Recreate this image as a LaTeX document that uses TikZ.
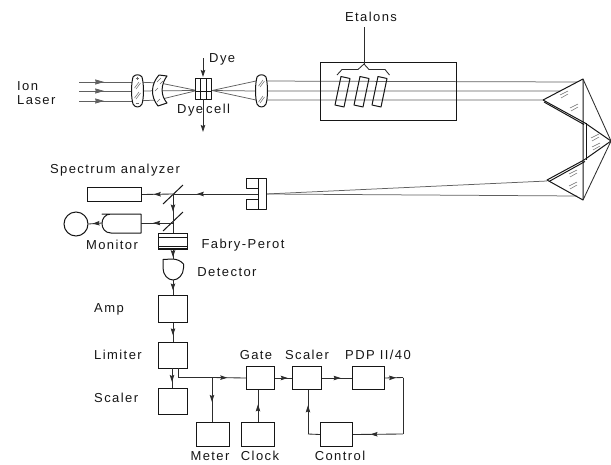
\documentclass[tikz,border=0pt]{standalone}
\usepackage{fontspec}
\setmainfont{Liberation Sans}[LetterSpace=11]
\usetikzlibrary{arrows.meta,decorations.markings}
\definecolor{ink}{HTML}{161616}
\definecolor{beam}{HTML}{606060}
\tikzset{
  x=1pt,y=-1pt,
  part/.style={draw=ink,line width=1pt,line join=round},
  box/.style={draw=ink,line width=1pt,rectangle,inner sep=0pt,minimum width=#1},
  box/.default=29pt,
  lab/.style={inner sep=0pt,text=ink,font=\fontsize{13}{15}\selectfont,align=left},
  ray/.style={draw=beam,line width=0.75pt},
  wire/.style={draw=ink!90,line width=0.85pt},
  hatch/.style={draw=ink!65,line width=0.5pt},
  midarr/.style={postaction={decorate},decoration={markings,mark=at position #1 with {\arrow{Stealth[length=7pt,width=4.5pt,inset=1pt]}}}},
  bigarr/.style={postaction={decorate},decoration={markings,mark=at position #1 with {\arrow{Stealth[length=9pt,width=5pt,inset=0.5pt]}}}},
  endarr/.style={-{Stealth[length=7pt,width=4.5pt,inset=1pt]}}
}
\begin{document}
\begin{tikzpicture}
\useasboundingbox (0,0) rectangle (611,464);
% ---- coordinates of the optical train
\coordinate (inA) at (79,82); \coordinate (inB) at (79,91); \coordinate (inC) at (79,101);
\coordinate (lenA) at (135,82); \coordinate (lenB) at (135,91); \coordinate (lenC) at (135,101);
\coordinate (menA) at (160,83); \coordinate (menC) at (158,100);
\coordinate (cellL) at (197,90.5); \coordinate (cellR) at (212,90.5);
\coordinate (lensA) at (256,81); \coordinate (lensB) at (256,91); \coordinate (lensC) at (256,100);
\coordinate (prA) at (577,82); \coordinate (prB) at (560,91); \coordinate (prC) at (543,100);
\coordinate (retA) at (547,181); \coordinate (retB) at (577,196); \coordinate (slit) at (266,194);
% ---- beams
\draw[ray,bigarr=0.45] (inA) -- (lenA); \draw[ray] (lenA) -- (menA) -- (cellL);
\draw[ray,bigarr=0.45] (inB) -- (lenB); \draw[ray] (lenB) -- (cellL);
\draw[ray,bigarr=0.45] (inC) -- (lenC); \draw[ray] (lenC) -- (menC) -- (cellL);
\draw[ray] (cellR) -- (lensA) -- (prA);
\draw[ray] (cellR) -- (lensB) -- (prB);
\draw[ray] (cellR) -- (lensC) -- (prC);
\draw[ray] (retA) -- (slit);
\draw[ray] (retB) -- (slit);
% ---- lenses
\draw[part,fill=white] (133,77) .. controls (135,74) and (140,74) .. (142,77) .. controls (144,85) and (144,97) .. (142,104) .. controls (140,108) and (135,108) .. (133,104) .. controls (131,97) and (131,85) .. (133,77) -- cycle;
\draw[part,fill=white] (159,75) -- (167,76) .. controls (161,84) and (160,95) .. (167,103) -- (158,106) .. controls (150,96) and (151,84) .. (159,75) -- cycle;
\draw[part,fill=white] (257,77) .. controls (259,74) and (264,74) .. (266,77) .. controls (268,85) and (268,97) .. (266,104) .. controls (264,108) and (259,108) .. (257,104) .. controls (255,97) and (255,85) .. (257,77) -- cycle;
\foreach \xa/\ya in {136/85,136/95,260/83,260/99}{
  \draw[hatch] (\xa-1.5,\ya+3) -- (\xa+3,\ya-3) (\xa,\ya+4) -- (\xa+4.5,\ya-2);
}
\draw[hatch] (157,82) -- (161,78) (160,84) -- (163,81) (155,91) -- (158,88) (157,102) -- (160,99);
\draw[hatch] (135.5,78) -- (138.5,78) (137,76.5) -- (137,79.5) (135.5,103) -- (138.5,103);
% ---- dye cell
\draw[part,fill=white] (195,78) rectangle (211,99);
\draw[part] (200,78) -- (200,99) (206,78) -- (206,99) (195,91) -- (211,91);
% ---- etalon box
\node[box=136pt,minimum height=58pt,anchor=north west] (ebox) at (320,62) {};
\foreach \xa in {0,19,37}{
  \draw[part] (341+\xa,76.5) -- (350+\xa,78.5) -- (344+\xa,107) -- (335+\xa,105) -- cycle;
}
\coordinate (bracetip) at (364,64);
\coordinate (etalonfoot) at (364,27);
\draw[wire] (337,75) -- (342,69.5) -- (358,69.5) -- (bracetip) -- (369,69.5) -- (385,69.5) -- (389.5,75);
\draw[wire] (bracetip) -- (etalonfoot);
% ---- prisms
\coordinate (pa) at (583,79); \coordinate (pb) at (543,100); \coordinate (pc) at (585,123);
\coordinate (pd) at (611,141); \coordinate (pe) at (584,160); \coordinate (pf) at (547,180);
\coordinate (pg) at (583,200);
\draw[part] (pb) -- (pa) -- (pg) -- (pf) -- (pe);
\draw[part] (pb) -- (pc) (pc) -- (pd) -- (pe);
\draw[part] (544,102) -- (584,124.5) (549,181.5) -- (585,161.5);
\draw[part] (586,123) -- (586,160);
\draw[wire] (pa) -- (pd) -- (pg);
\foreach \xa/\ya in {564/94,574/107,595/137,596/146,573/173,573/185}{
  \draw[hatch] (\xa-4,\ya+1) -- (\xa+4,\ya-3) (\xa-3,\ya+4) -- (\xa+4,\ya);
}
% ---- double monochromator / slit
\draw[part,fill=white] (246,178) -- (266,178) -- (266,209) -- (246,209) -- (246,199) -- (258,199) -- (258,188) -- (246,188) -- cycle;
\draw[part] (258,178) -- (258,209);
% ---- detection optics
\node[box=54pt,minimum height=14pt,anchor=north west] (spec) at (87,187) {};
\coordinate (splitA) at (173,194);
\coordinate (splitB) at (173,223);
\coordinate (slitL) at (258,194);
\draw[part] (163,204) -- (183,185);
\draw[part] (163,231) -- (183,212);
\draw[wire,midarr=0.72] (slitL) -- (splitA);
\draw[wire,midarr=0.62] (splitA) -- (spec.east);
\coordinate (fpTop) at (173,233);
\draw[wire,midarr=0.45] (splitA) -- (fpTop);
\draw[part] (102,214) -- (141,214) -- (141,233) -- (111,233) .. controls (99,233) and (99,214) .. (111,214) -- cycle;
\coordinate (monR) at (141,223); \coordinate (monL) at (102,223);
\node[draw=ink,line width=1pt,circle,minimum size=24pt,inner sep=0pt] (moncirc) at (76,224) {};
\draw[wire,midarr=0.62] (splitB) -- (monR);
\draw[wire,midarr=0.7] (monL) -- (moncirc.east);
\node[box=29pt,minimum height=16pt,anchor=north west] (fp) at (158,233) {};
\draw[part] (158,237) -- (187,237) (158,246) -- (187,246) (158,248) -- (187,248);
\coordinate (detTop) at (173,259); \coordinate (detBot) at (173,280);
\draw[part] (163,259.5) -- (172,259) .. controls (177,259) and (181,261) .. (183.5,264) -- (183.5,268) .. controls (183.5,275) and (178,280) .. (173,280) .. controls (168,280) and (163,275) .. (163,268) -- cycle;
\draw[wire,midarr=0.8] (fp.south -| detTop) -- (detTop);
\node[box=29pt,minimum height=27pt,anchor=north west] (amp) at (158,295) {};
\node[box=29pt,minimum height=26pt,anchor=north west] (lim) at (158,342) {};
\node[box=29pt,minimum height=26pt,anchor=north west] (sca) at (158,388) {};
\node[box=28pt,minimum height=23pt,anchor=north west] (gate) at (246,366) {};
\node[box=29pt,minimum height=23pt,anchor=north west] (scb) at (292,366) {};
\node[box=32pt,minimum height=23pt,anchor=north west] (pdp) at (352,366) {};
\node[box=32pt,minimum height=24pt,anchor=north west] (ctl) at (320,422) {};
\node[box=33pt,minimum height=24pt,anchor=north west] (met) at (196,422) {};
\node[box=33pt,minimum height=24pt,anchor=north west] (clk) at (241,422) {};
\draw[wire,midarr=0.7] (detBot) -- (amp.north -| detBot);
\draw[wire,midarr=0.65] (amp.south -| detBot) -- (lim.north -| detBot);
\coordinate (limA) at (172,368); \coordinate (limB) at (178,368); \coordinate (limC) at (178,377.5);
\coordinate (branch) at (212,377.5);
\draw[wire,midarr=0.7] (limA) -- (limA |- sca.north);
\draw[wire] (limB) -- (limC) -- (branch);
\draw[wire,midarr=0.45] (branch) -- (gate.west);
\draw[wire,midarr=0.55] (branch) -- (branch |- met.north);
\coordinate (clkUp) at (258,422);
\draw[wire,midarr=0.55] (clkUp) -- (clkUp |- gate.south);
\draw[wire,midarr=0.75] (gate.east) -- (scb.west);
\draw[wire,midarr=0.62] (scb.east) -- (pdp.west);
\coordinate (rtA) at (403,377.5);
\coordinate (rtB) at (403,434);
\coordinate (ltA) at (308,434);
\draw[wire,midarr=0.62] (pdp.east) -- (rtA);
\draw[wire] (rtA) -- (rtB);
\draw[wire,midarr=0.65] (rtB) -- (ctl.east);
\draw[wire] (ctl.west) -- (ltA);
\draw[wire,midarr=0.65] (ltA) -- (ltA |- scb.south);
% ---- dye arrows
\coordinate (dyeA) at (203,58); \coordinate (dyeB) at (203,77); \coordinate (dyeC) at (203,99); \coordinate (dyeD) at (203,132);
\draw[wire,endarr] (dyeA) -- (dyeB);
\draw[wire,endarr] (dyeC) -- (dyeD);
% ---- labels
\node[lab,anchor=west] (tIon) at (17,86) {Ion};
\node[lab,anchor=west] (tLaser) at (17,100.5) {Laser};
\node[lab,anchor=west] (tDye) at (209,59.5) {Dye};
\node[lab,anchor=west] (tCell) at (177,110) {Dye\hspace{3pt}cell};
\node[lab] (tEt) at (371,17) {Etalons};
\node[lab] (tSp) at (115,170.5) {Spectrum analyzer};
\node[lab] (tMon) at (112,245) {Monitor};
\node[lab] (tFP) at (243,245) {Fabry-Perot};
\node[lab] (tDet) at (227,272) {Detector};
\node[lab,anchor=west] (tAmp) at (94,309) {Amp};
\node[lab,anchor=west] (tLim) at (94,355) {Limiter};
\node[lab,anchor=west] (tSca) at (94,398) {Scaler};
\node[lab] (tGate) at (256,355) {Gate};
\node[lab] (tScb) at (307,355) {Scaler};
\node[lab] (tPDP) at (378,355) {PDP II/40};
\node[lab] (tMet) at (210,456) {Meter};
\node[lab] (tClk) at (260,456) {Clock};
\node[lab] (tCtl) at (340,456) {Control};
\end{tikzpicture}
\end{document}
